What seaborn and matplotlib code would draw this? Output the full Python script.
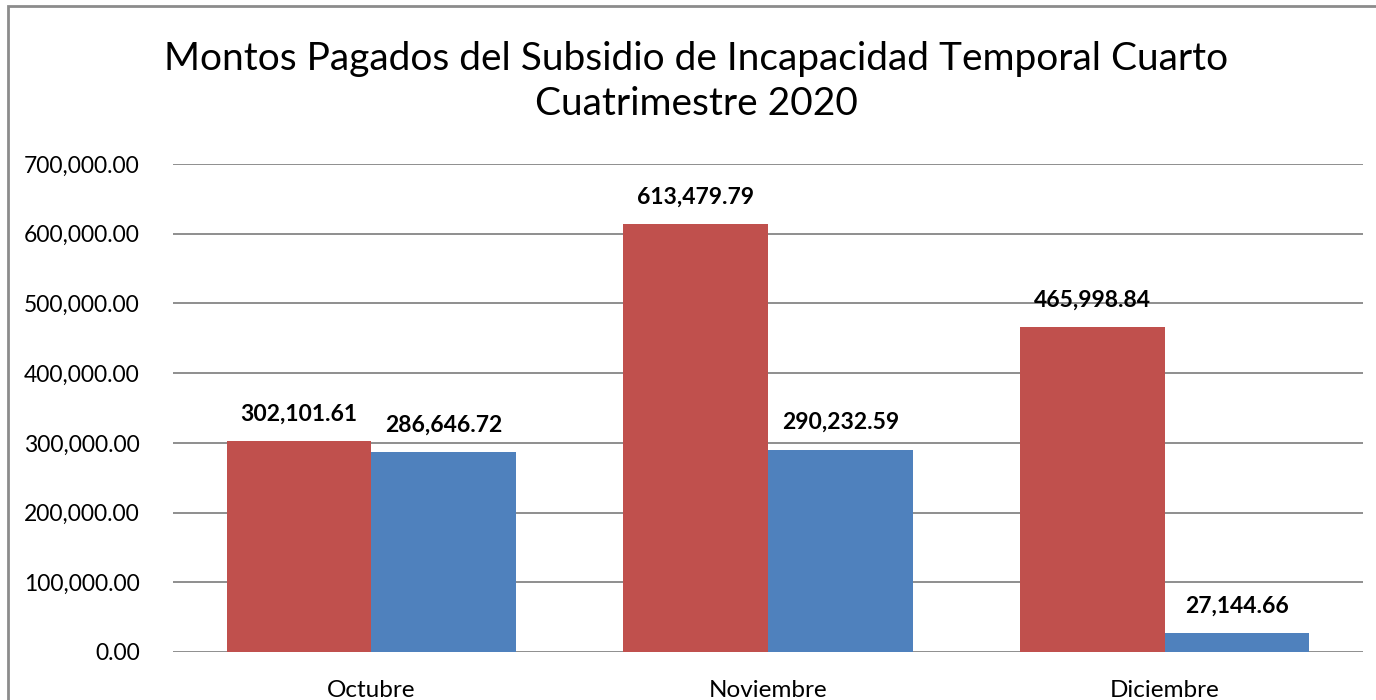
import matplotlib
matplotlib.use("Agg")
import matplotlib.pyplot as plt
import seaborn as sns
import pandas as pd
from matplotlib.patches import Rectangle
from matplotlib.ticker import FuncFormatter

# data
months = ["Octubre", "Noviembre", "Diciembre"]
serie_roja = [302101.61, 613479.79, 465998.84]
serie_azul = [286646.72, 290232.59, 27144.66]
series_names = ["Serie 1", "Serie 2"]
yticks = [0, 100000, 200000, 300000, 400000, 500000, 600000, 700000]

df = pd.DataFrame({
    "mes": months * 2,
    "serie": [series_names[0]] * 3 + [series_names[1]] * 3,
    "monto": serie_roja + serie_azul,
})

sns.set_style("white")
plt.rcParams["font.family"] = ["Lato", "DejaVu Sans"]
plt.rcParams.update({"text.color": "black", "xtick.color": "black",
                     "ytick.color": "black"})

fig = plt.figure(figsize=(13.76, 7), dpi=100)
ax = fig.add_axes([173 / 1376, 1 - 652 / 700, 1190 / 1376, 488 / 700])

sns.barplot(data=df, x="mes", y="monto", hue="serie",
            palette=["#C0504D", "#4F81BD"], width=0.73, saturation=1,
            linewidth=0, legend=False, ax=ax)

ax.set_ylim(0, 700000)
ax.set_yticks(yticks)
ax.yaxis.set_major_formatter(FuncFormatter(lambda v, p: f"{v:,.2f}"))
ax.grid(axis="y", color="#868686", lw=1.3)
ax.set_axisbelow(True)
for s in ax.spines.values():
    s.set_visible(False)
ax.tick_params(axis="y", length=0, pad=24, labelsize=16.5)
ax.tick_params(axis="x", length=0, pad=20, labelsize=17.5)
ax.set_xlabel("")
ax.set_ylabel("")

for cont in ax.containers:
    ax.bar_label(cont, labels=[f"{b.get_height():,.2f}" for b in cont],
                 padding=12, fontsize=16.5, fontweight="bold")

fig.suptitle("Montos Pagados del Subsidio de Incapacidad Temporal Cuarto\nCuatrimestre 2020",
             x=0.506, y=1 - 81.5 / 700, va="center", fontsize=28, linespacing=1.32)

fig.patches.append(Rectangle((8 / 1376, -0.1), 1.2, 1.1 - 6 / 700,
                             transform=fig.transFigure, fill=False,
                             edgecolor="#8c8c8c", lw=2))

fig.savefig("out.png", dpi=100)
